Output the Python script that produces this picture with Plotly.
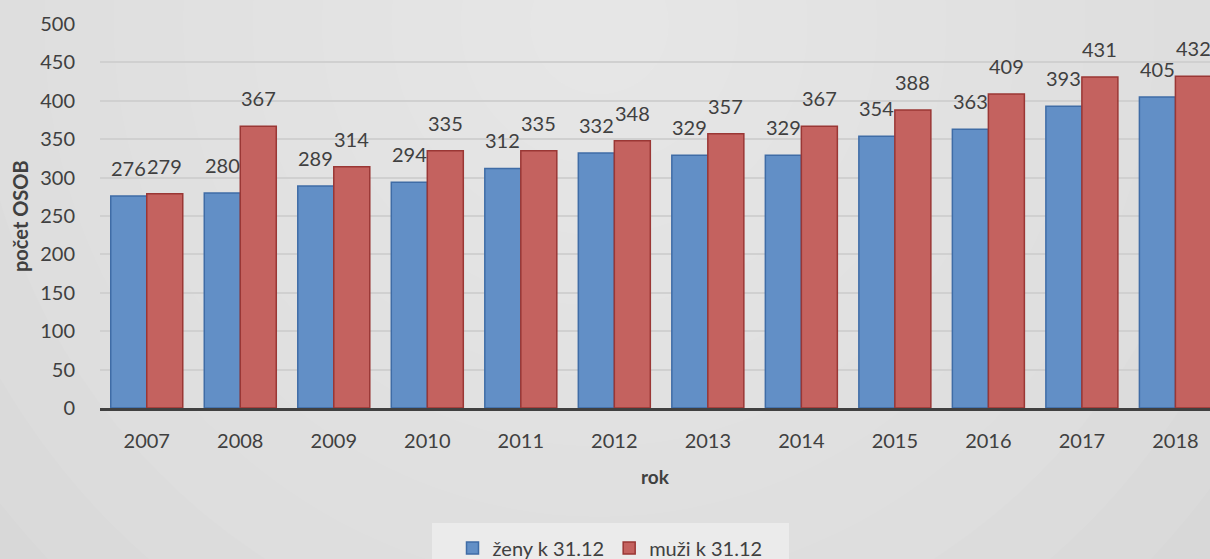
import plotly.graph_objects as go

years = ["2007", "2008", "2009", "2010", "2011", "2012", "2013", "2014", "2015", "2016", "2017", "2018"]
zeny = [276, 280, 289, 294, 312, 332, 329, 329, 354, 363, 393, 405]
muzi = [279, 367, 314, 335, 335, 348, 357, 367, 388, 409, 431, 432]

FONT = "Lato"
TXT = "#404040"

fig = go.Figure()
fig.add_trace(go.Bar(
    x=years, y=zeny, name="ženy k 31.12",
    marker=dict(color="#628fc6", line=dict(color="#3f6ca6", width=1.5)),
))
fig.add_trace(go.Bar(
    x=years, y=muzi, name="muži k 31.12",
    marker=dict(color="#c4625f", line=dict(color="#9a3735", width=1.5)),
))

annotations = []
for series, shift in ((zeny, -18), (muzi, 18)):
    for i, v in enumerate(series):
        annotations.append(dict(
            x=i, y=v, xref="x", yref="y", text=str(v), showarrow=False,
            xshift=shift, yshift=14, yanchor="bottom", xanchor="center",
            font=dict(size=20, color=TXT, family=FONT),
        ))
annotations.append(dict(
    x=(20 - 100) / 1110, y=0.5, xref="paper", yref="paper", text="<b>počet OSOB</b>",
    textangle=-90, showarrow=False, xanchor="center", yanchor="middle",
    font=dict(size=20, color=TXT, family=FONT),
))

shapes = []
n = 12
for k in range(n):
    f = 1 - k / n
    shapes.append(dict(
        type="circle", xref="paper", yref="paper", layer="below",
        x0=0.45 - 0.75 * f, x1=0.45 + 0.75 * f,
        y0=1.0 - 2.2 * f, y1=1.0 + 2.2 * f,
        fillcolor="white", opacity=0.06, line=dict(width=0),
    ))
# legend box: paper area spans x 100..1210, y 24..408
shapes.append(dict(
    type="rect", xref="paper", yref="paper", layer="below",
    x0=(432 - 100) / 1110, x1=(789 - 100) / 1110,
    y0=(408 - 523) / 384, y1=(408 - 570) / 384,
    fillcolor="#ebebeb", line=dict(width=0),
))

fig.update_layout(
    width=1210, height=559,
    margin=dict(l=100, r=0, t=24, b=151),
    paper_bgcolor="#d6d6d6",
    plot_bgcolor="rgba(0,0,0,0)",
    font=dict(family=FONT, color=TXT, size=19),
    barmode="group", bargap=0.23, bargroupgap=0.0,
    showlegend=True,
    legend=dict(orientation="h", xref="paper", yref="container", x=(610 - 100) / 1110, xanchor="center",
                y=(559 - 548) / 559, yanchor="middle", font=dict(size=20, color=TXT, family=FONT),
                bgcolor="rgba(0,0,0,0)", tracegroupgap=0),
    xaxis=dict(type="category", range=[-0.5, 11.37], showgrid=False, ticks="outside", ticklen=13,
               tickcolor="rgba(0,0,0,0)", tickfont=dict(size=20),
               showline=True, linecolor="#404040", linewidth=3,
               title=dict(text="<b>rok</b>", font=dict(size=19), standoff=20)),
    yaxis=dict(range=[0, 500], dtick=50, showgrid=True, gridcolor="#d0d0d0", gridwidth=1.5,
               zeroline=False, ticks="outside", ticklen=20, tickcolor="rgba(0,0,0,0)",
               tickfont=dict(size=20)),
    shapes=shapes,
    annotations=annotations,
)

fig.write_html("out.html", config={"displayModeBar": False},
               post_script="document.body.style.margin='0';document.body.style.overflow='hidden';")
